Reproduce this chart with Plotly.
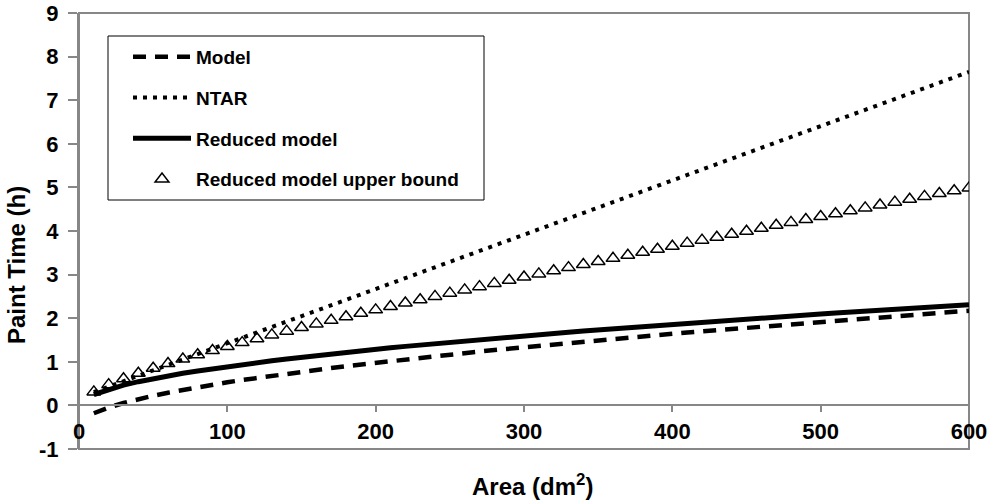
import plotly.graph_objects as go

# ---- data ----
area = [10, 20, 30, 40, 50, 60, 70, 80, 90, 100,
        110, 120, 130, 140, 150, 160, 170, 180, 190, 200,
        210, 220, 230, 240, 250, 260, 270, 280, 290, 300,
        310, 320, 330, 340, 350, 360, 370, 380, 390, 400,
        410, 420, 430, 440, 450, 460, 470, 480, 490, 500,
        510, 520, 530, 540, 550, 560, 570, 580, 590, 600]

model = [-0.180, -0.048, 0.055, 0.143, 0.221, 0.291, 0.356, 0.417, 0.475, 0.530,
         0.582, 0.632, 0.680, 0.727, 0.772, 0.816, 0.858, 0.900, 0.940, 0.980,
         1.018, 1.056, 1.093, 1.130, 1.165, 1.201, 1.235, 1.269, 1.302, 1.335,
         1.368, 1.400, 1.431, 1.463, 1.493, 1.524, 1.554, 1.583, 1.613, 1.642,
         1.671, 1.699, 1.727, 1.755, 1.783, 1.810, 1.837, 1.864, 1.891, 1.917,
         1.943, 1.969, 1.995, 2.021, 2.046, 2.071, 2.096, 2.121, 2.146, 2.170]

ntar = [0.305, 0.429, 0.554, 0.678, 0.803, 0.927, 1.052, 1.176, 1.301, 1.425,
        1.550, 1.674, 1.799, 1.923, 2.048, 2.172, 2.297, 2.421, 2.546, 2.670,
        2.795, 2.919, 3.044, 3.168, 3.293, 3.417, 3.542, 3.666, 3.791, 3.915,
        4.040, 4.164, 4.289, 4.413, 4.538, 4.662, 4.787, 4.911, 5.036, 5.160,
        5.285, 5.409, 5.534, 5.658, 5.783, 5.907, 6.032, 6.156, 6.281, 6.405,
        6.530, 6.654, 6.779, 6.903, 7.028, 7.152, 7.277, 7.401, 7.526, 7.650]

reduced = [0.250, 0.372, 0.465, 0.544, 0.614, 0.677, 0.736, 0.790, 0.842, 0.890,
           0.937, 0.981, 1.024, 1.065, 1.105, 1.143, 1.181, 1.217, 1.253, 1.287,
           1.321, 1.354, 1.386, 1.418, 1.449, 1.480, 1.510, 1.539, 1.568, 1.597,
           1.625, 1.652, 1.679, 1.706, 1.732, 1.758, 1.784, 1.810, 1.835, 1.861,
           1.885, 1.910, 1.934, 1.958, 1.981, 2.004, 2.028, 2.050, 2.073, 2.096,
           2.118, 2.140, 2.162, 2.183, 2.205, 2.226, 2.247, 2.268, 2.289, 2.310]

upper = [0.310, 0.476, 0.613, 0.737, 0.852, 0.959, 1.062, 1.161, 1.257, 1.350,
         1.440, 1.530, 1.617, 1.703, 1.786, 1.869, 1.951, 2.032, 2.112, 2.191,
         2.269, 2.347, 2.423, 2.500, 2.575, 2.649, 2.724, 2.798, 2.872, 2.944,
         3.016, 3.089, 3.160, 3.232, 3.302, 3.373, 3.443, 3.513, 3.583, 3.652,
         3.721, 3.790, 3.858, 3.927, 3.994, 4.062, 4.130, 4.197, 4.264, 4.331,
         4.397, 4.464, 4.530, 4.597, 4.662, 4.727, 4.794, 4.859, 4.924, 4.989]

x_ticks = [0, 100, 200, 300, 400, 500, 600]
y_ticks = [-1, 0, 1, 2, 3, 4, 5, 6, 7, 8, 9]

FONT = "Arial, Liberation Sans, sans-serif"
GRAY = "#878787"

fig = go.Figure()
fig.add_trace(go.Scatter(x=area, y=model, mode="lines", name="Model", legendgroup="a",
                         line=dict(color="black", width=4.5, dash="13px,9px")))
fig.add_trace(go.Scatter(x=area, y=ntar, mode="lines", name="NTAR", legendgroup="b",
                         line=dict(color="black", width=4, dash="4px,6px")))
fig.add_trace(go.Scatter(x=area, y=reduced, mode="lines", name="Reduced model", legendgroup="c",
                         line=dict(color="black", width=5)))
fig.add_trace(go.Scatter(x=area, y=upper, mode="markers", name="Reduced model upper bound",
                         legendgroup="d",
                         marker=dict(symbol="triangle-up-open", size=12, color="black",
                                     line=dict(width=1.5, color="black"))))

# legend box
fig.add_shape(type="rect", xref="paper", yref="paper",
              x0=(108 - 79) / 890, x1=(484 - 79) / 890,
              y0=(449 - 200) / 436, y1=(449 - 36) / 436,
              line=dict(color="black", width=1), fillcolor="white", layer="below")
# plot frame
fig.add_shape(type="rect", xref="paper", yref="paper", x0=0, x1=1, y0=0, y1=1,
              line=dict(color=GRAY, width=2), layer="below")

fig.add_annotation(text="<b>Area (dm<sup>2</sup>)</b>", xref="paper", yref="paper",
                   x=(532 - 79) / 890, y=(449 - 485) / 436, showarrow=False,
                   xanchor="center", yanchor="middle",
                   font=dict(family=FONT, size=24, color="black"))
fig.add_annotation(text="<b>Paint Time (h)</b>", xref="paper", yref="paper",
                   x=(16 - 79) / 890, y=(449 - 265) / 436, showarrow=False, textangle=-90,
                   xanchor="center", yanchor="middle",
                   font=dict(family=FONT, size=24, color="black"))

fig.update_layout(
    width=998, height=503,
    margin=dict(l=79, r=29, t=13, b=54),
    plot_bgcolor="white", paper_bgcolor="white",
    showlegend=True,
    legend=dict(x=(128 - 79) / 890, y=(449 - 38) / 436, xanchor="left", yanchor="top",
                bgcolor="rgba(0,0,0,0)", borderwidth=0, tracegroupgap=13,
                itemwidth=58,
                font=dict(family=FONT, size=19, color="black", weight="bold")),
    xaxis=dict(range=[0, 600], tickvals=x_ticks, ticktext=[str(v) for v in x_ticks],
               anchor="free", position=0.1, showline=True, linecolor=GRAY, linewidth=2,
               ticks="outside", ticklen=6, tickcolor=GRAY, tickwidth=1.5,
               showgrid=False, zeroline=False, automargin=False,
               tickfont=dict(family=FONT, size=22, color="black", weight="bold")),
    yaxis=dict(range=[-1, 9], tickvals=y_ticks, ticktext=[str(v) for v in y_ticks],
               showline=True, linecolor=GRAY, linewidth=2,
               ticks="outside", ticklen=9, tickcolor=GRAY, tickwidth=1.5,
               ticklabelstandoff=5,
               showgrid=False, zeroline=False, automargin=False,
               tickfont=dict(family=FONT, size=22, color="black", weight="bold")),
)

fig.write_html("out.html", config={"displayModeBar": False},
               post_script="document.body.style.margin='0';document.body.style.overflow='hidden';")
